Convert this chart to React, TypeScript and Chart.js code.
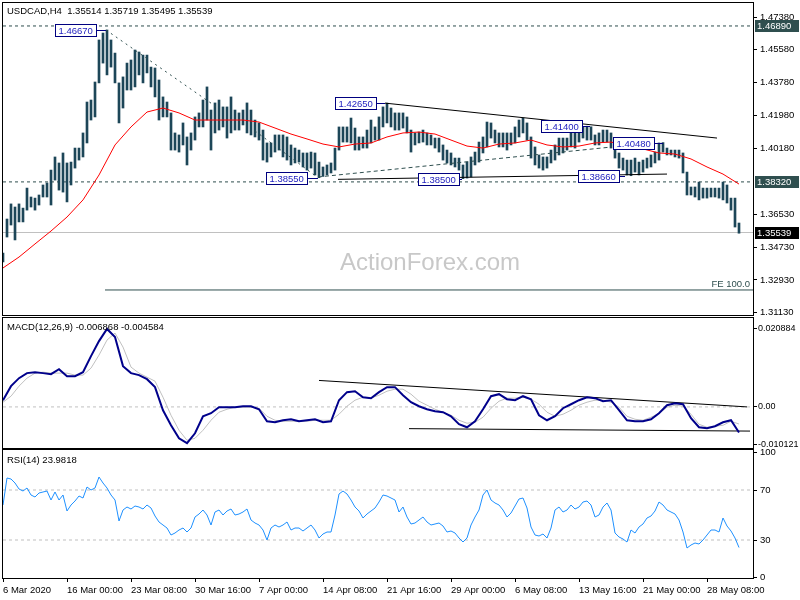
import React, { useEffect, useRef } from 'react';
import { Chart, registerables } from 'chart.js';

Chart.register(...registerables);

const FONT = '"Liberation Sans", Arial, sans-serif';
const FS = 9.5;

// ---------- texts ----------
const priceTitle = 'USDCAD,H4  1.35514 1.35719 1.35495 1.35539';
const macdTitle = 'MACD(12,26,9) -0.006868 -0.004584';
const rsiTitle = 'RSI(14) 23.9818';
const watermark = 'ActionForex.com';
const feText = 'FE 100.0';

// ---------- x axis (1 unit = 8 hours) ----------
const X_MIN = 0;
const X_MAX = 187.5;
const xTickPos = [0, 16, 32, 48, 64, 80, 96, 112, 128, 144, 160, 176];
const xTickLabels = [
  '6 Mar 2020', '16 Mar 00:00', '23 Mar 08:00', '30 Mar 16:00', '7 Apr 00:00', '14 Apr 08:00',
  '21 Apr 16:00', '29 Apr 00:00', '6 May 08:00', '13 May 16:00', '21 May 00:00', '28 May 08:00',
];

// ---------- price bars ----------
const highs = [
  1.3441, 1.3628, 1.3711, 1.3694, 1.3711, 1.3688, 1.3798, 1.3749, 1.3743, 1.3760,
  1.3815, 1.3826, 1.3897, 1.3969, 1.3936, 1.3991, 1.3936, 1.3941, 1.4018, 1.4018,
  1.4101, 1.4271, 1.4282, 1.4381, 1.4612, 1.4650, 1.4667, 1.4612, 1.4540, 1.4376,
  1.4409, 1.4485, 1.4502, 1.4557, 1.4546, 1.4529, 1.4529, 1.4463, 1.4458, 1.4392,
  1.4299, 1.4271, 1.4211, 1.4101, 1.4090, 1.4156, 1.4079, 1.4101, 1.4189, 1.4211,
  1.4282, 1.4354, 1.4227, 1.4266, 1.4282, 1.4244, 1.4244, 1.4299, 1.4227, 1.4211,
  1.4227, 1.4266, 1.4227, 1.4172, 1.4156, 1.4117, 1.4046, 1.4046, 1.4090, 1.4090,
  1.4090, 1.4079, 1.4035, 1.4018, 1.4007, 1.3991, 1.3991, 1.3996, 1.3991, 1.3941,
  1.3914, 1.3925, 1.3936, 1.4018, 1.4134, 1.4134, 1.4134, 1.4183, 1.4128, 1.4079,
  1.4079, 1.4117, 1.4172, 1.4134, 1.4189, 1.4244, 1.4265, 1.4238, 1.4211, 1.4211,
  1.4211, 1.4189, 1.4117, 1.4101, 1.4106, 1.4117, 1.4101, 1.4090, 1.4073, 1.4073,
  1.4035, 1.4007, 1.3991, 1.3963, 1.3963, 1.3925, 1.3941, 1.3969, 1.3996, 1.4051,
  1.4079, 1.4161, 1.4156, 1.4117, 1.4101, 1.4101, 1.4101, 1.4101, 1.4134, 1.4172,
  1.4183, 1.4156, 1.4079, 1.4024, 1.3980, 1.3969, 1.3969, 1.4007, 1.4035, 1.4073,
  1.4073, 1.4073, 1.4117, 1.4106, 1.4140, 1.4134, 1.4138, 1.4135, 1.4090, 1.4101,
  1.4117, 1.4117, 1.4101, 1.4062, 1.3991, 1.3963, 1.3952, 1.3952, 1.3963, 1.3941,
  1.3952, 1.3963, 1.3980, 1.3996, 1.4046, 1.4048, 1.4018, 1.4007, 1.4007, 1.4007,
  1.3991, 1.3886, 1.3804, 1.3804, 1.3831, 1.3798, 1.3798, 1.3798, 1.3798, 1.3798,
  1.3831, 1.3815, 1.3743, 1.3743, 1.3606,
];
const lows = [
  1.3392, 1.3529, 1.3595, 1.3513, 1.3612, 1.3612, 1.3677, 1.3694, 1.3677, 1.3705,
  1.3749, 1.3749, 1.3705, 1.3842, 1.3787, 1.3776, 1.3722, 1.3815, 1.3908, 1.3952,
  1.3969, 1.4046, 1.4172, 1.4189, 1.4376, 1.4485, 1.4420, 1.4463, 1.4376, 1.4156,
  1.4238, 1.4337, 1.4337, 1.4354, 1.4420, 1.4376, 1.4431, 1.4354, 1.4299, 1.4172,
  1.4189, 1.4189, 1.4007, 1.4007, 1.3996, 1.4035, 1.3925, 1.4007, 1.4062, 1.4134,
  1.4134, 1.4172, 1.4007, 1.4101, 1.4117, 1.4134, 1.4073, 1.4101, 1.4117, 1.4117,
  1.4145, 1.4101, 1.4090, 1.4079, 1.4062, 1.3952, 1.3941, 1.3969, 1.3996, 1.4007,
  1.3969, 1.3952, 1.3925, 1.3936, 1.3941, 1.3914, 1.3897, 1.3908, 1.3870, 1.3855,
  1.3862, 1.3870, 1.3881, 1.3897, 1.4007, 1.4051, 1.4051, 1.4046, 1.4007, 1.4007,
  1.4018, 1.4018, 1.4046, 1.4062, 1.4062, 1.4134, 1.4156, 1.4134, 1.4117, 1.4117,
  1.4128, 1.4101, 1.3996, 1.4035, 1.4046, 1.4051, 1.4035, 1.4035, 1.4018, 1.3996,
  1.3952, 1.3936, 1.3925, 1.3914, 1.3897, 1.3850, 1.3853, 1.3859, 1.3925, 1.3941,
  1.3991, 1.4024, 1.4073, 1.4046, 1.4024, 1.4024, 1.4007, 1.4035, 1.4046, 1.4079,
  1.4101, 1.4062, 1.3963, 1.3925, 1.3908, 1.3897, 1.3908, 1.3936, 1.3952, 1.3980,
  1.3991, 1.4007, 1.4024, 1.4018, 1.4051, 1.4073, 1.4062, 1.4062, 1.4035, 1.4035,
  1.4051, 1.4051, 1.4018, 1.3963, 1.3908, 1.3897, 1.3870, 1.3866, 1.3886, 1.3870,
  1.3886, 1.3908, 1.3914, 1.3936, 1.3952, 1.3996, 1.3980, 1.3980, 1.3969, 1.3963,
  1.3881, 1.3760, 1.3760, 1.3749, 1.3733, 1.3743, 1.3743, 1.3749, 1.3749, 1.3743,
  1.3733, 1.3716, 1.3677, 1.3584, 1.3550,
];

// moving average, one value every 4 steps
const MA_STEP = 4;
const ma = [
  1.3359, 1.3419, 1.3491, 1.3562, 1.3639, 1.3733, 1.3870, 1.4035, 1.4134, 1.4216,
  1.4238, 1.4211, 1.4172, 1.4172, 1.4172, 1.4172, 1.4161, 1.4128, 1.4095, 1.4068,
  1.4040, 1.4024, 1.4040, 1.4046, 1.4079, 1.4101, 1.4106, 1.4095, 1.4062, 1.4029,
  1.4018, 1.4040, 1.4046, 1.4062, 1.4035, 1.4024, 1.4029, 1.4046, 1.4051, 1.4029,
  1.4013, 1.3991, 1.3985, 1.3958, 1.3914, 1.3875, 1.3820,
];

// MACD, one value every 2 steps
const MACD_STEP = 2;
const macdMain = [
  0.00180, 0.00556, 0.00770, 0.00905, 0.00931, 0.00905, 0.00878, 0.01012, 0.00824, 0.00824,
  0.00931, 0.01361, 0.01763, 0.02088, 0.01871, 0.01092, 0.00905, 0.00851, 0.00743, 0.00529,
  -0.00089, -0.00491, -0.00840, -0.00970, -0.00706, -0.00250, -0.00169, -0.00008, -0.00008, -0.00008,
  0.00019, 0.00019, -0.00062, -0.00384, -0.00411, -0.00357, -0.00330, -0.00384, -0.00357, -0.00330,
  -0.00411, -0.00384, 0.00180, 0.00395, 0.00421, 0.00260, 0.00234, 0.00395, 0.00529, 0.00529,
  0.00314, 0.00126, 0.00019, -0.00062, -0.00115, -0.00142, -0.00250, -0.00464, -0.00545, -0.00384,
  -0.00062, 0.00287, 0.00341, 0.00207, 0.00180, 0.00287, 0.00207, -0.00223, -0.00357, -0.00250,
  -0.00035, 0.00072, 0.00180, 0.00260, 0.00234, 0.00153, 0.00180, -0.00089, -0.00357, -0.00384,
  -0.00384, -0.00330, -0.00169, 0.00046, 0.00099, 0.00072, -0.00303, -0.00545, -0.00572, -0.00518,
  -0.00411, -0.00357, -0.00687,
];
const macdSignal = [
  0.00126, 0.00287, 0.00556, 0.00770, 0.00905, 0.00931, 0.00905, 0.00905, 0.00905, 0.00851,
  0.00851, 0.01039, 0.01388, 0.01790, 0.01978, 0.01602, 0.01066, 0.00905, 0.00797, 0.00690,
  0.00260, -0.00223, -0.00625, -0.00894, -0.00840, -0.00625, -0.00357, -0.00142, -0.00062, -0.00008,
  -0.00008, -0.00008, -0.00035, -0.00250, -0.00357, -0.00384, -0.00384, -0.00384, -0.00384, -0.00357,
  -0.00357, -0.00357, -0.00196, 0.00019, 0.00180, 0.00260, 0.00234, 0.00314, 0.00421, 0.00475,
  0.00475, 0.00341, 0.00153, 0.00046, -0.00062, -0.00142, -0.00223, -0.00357, -0.00437, -0.00411,
  -0.00276, -0.00035, 0.00153, 0.00234, 0.00234, 0.00260, 0.00207, 0.00072, -0.00142, -0.00250,
  -0.00196, -0.00089, 0.00046, 0.00126, 0.00180, 0.00180, 0.00126, -0.00008, -0.00250, -0.00330,
  -0.00357, -0.00276, -0.00169, -0.00008, 0.00046, 0.00019, -0.00196, -0.00464, -0.00545, -0.00518,
  -0.00491, -0.00384, -0.00458,
];

// RSI, one value per step
const rsi = [
  58, 79.6, 78.8, 75.6, 70.8, 69.2, 71.6, 66, 64.4, 67.6,
  68.4, 69.2, 62, 68.4, 62, 66, 53.2, 58, 61.2, 65.2,
  63.6, 72.4, 70, 71.6, 80.4, 75.6, 71.6, 66, 62, 45.2,
  54, 56.4, 54.8, 57.2, 56.4, 54.8, 58, 55.6, 49.2, 44.4,
  42, 39.6, 34, 35.6, 38, 39.6, 36.4, 39.6, 48.4, 50.8,
  54, 50, 42, 52.4, 54, 50, 53.2, 54.8, 50, 50.8,
  52.4, 54.8, 46, 43.6, 42, 38, 30, 39.6, 42, 40.4,
  42, 44.4, 38, 39.6, 39.6, 37.2, 39.6, 42, 38, 31.6,
  34.8, 36.4, 36.4, 50, 66.8, 69.2, 66.8, 62, 56.4, 53.2,
  47.6, 50.8, 53.2, 55.6, 60.4, 66, 65.2, 63.6, 62, 52.4,
  56.4, 48.4, 42.8, 43.6, 46, 48.4, 44.4, 42, 42.8, 43.6,
  41.2, 36.4, 37.2, 35.6, 31.6, 28.4, 31.6, 42, 48.4, 54,
  66, 70, 62, 59.6, 58, 54, 48.4, 51.6, 57.2, 62.8,
  63.6, 55.6, 40.4, 34, 33.2, 34.8, 31.6, 39.6, 54, 56.4,
  52.4, 54, 58, 54.8, 56.4, 60.4, 61.2, 58, 48.4, 50,
  56.4, 59.6, 54, 35.6, 32.4, 30.8, 28.4, 38, 35.6, 40.4,
  42.8, 47.6, 49.2, 53.2, 60.4, 58, 54, 52.4, 50.8, 46,
  36.4, 23.6, 26, 27.6, 26.8, 30, 34, 38, 38, 36.4,
  47.6, 41.2, 37.2, 31.6, 23.98,
];

// ---------- axis ticks ----------
const priceTicks = [1.4738, 1.4558, 1.4378, 1.4198, 1.4018, 1.3653, 1.3473, 1.3293, 1.3113];
const macdTicks = [0.020884, 0, -0.010121];
const macdTickLabels = ['0.020884', '0.00', '-0.010121'];
const rsiTicks = [100, 70, 30, 0];
const rsiLevels = [70, 30];

// ---------- levels & drawings ----------
const dashedLevels = [1.4689, 1.3832];
const lastPrice = 1.35539;
const feLevel = 1.3238;
const feStart = 25.5;
const priceDotted = [[25.75, 1.4667, 53.75, 1.4238], [63, 1.4112, 78.5, 1.3859]];
const priceDashed = [[78.75, 1.3859, 152.25, 1.4024]];
const priceSolid = [[95.5, 1.4265, 178.5, 1.4073], [83.75, 1.3846, 166, 1.3875]];
const macdTrend = [[79, 0.00709, 186, 0.0], [101.5, -0.00582, 186.75, -0.00647]];

const labelValues = [1.4667, 1.4265, 1.3855, 1.385, 1.414, 1.3866, 1.4048];
const labelBarIdx = [25.75, 95.5, 78.75, 114.75, 146.75, 155.5, 165];
const labelBoxEndIdx = [23.25, 93.25, 76, 114, 144.75, 154, 162.75];
const tagValues = [1.4689, 1.3832, 1.35539];
const tagColors = ['#2f4f4f', '#2f4f4f', '#000000'];

// ---------- helpers ----------
const BAR_COLOR = '#1d4658';
const seg = (s: number[]) => [{ x: s[0], y: s[1] }, { x: s[2], y: s[3] }];
const hline = (v: number, from = X_MIN) => [{ x: from, y: v }, { x: X_MAX, y: v }];
const font = { family: FONT, size: FS };

const lineDs = (data: any[], color: string, extra: any = {}) => ({
  type: 'line',
  data,
  borderColor: color,
  borderWidth: 1,
  pointRadius: 0,
  tension: 0,
  fill: false,
  ...extra,
});

const yAxis = (
  min: number,
  max: number,
  ticks: number[],
  fmt: (v: number) => string,
  pad = 3,
  size = FS,
) => ({
  type: 'linear',
  position: 'right',
  min,
  max,
  afterBuildTicks: (s: any) => {
    s.ticks = ticks.map((v) => ({ value: v }));
  },
  afterFit: (s: any) => {
    s.width = 47;
    s.paddingTop = 0;
    s.paddingBottom = 0;
  },
  ticks: {
    autoSkip: false,
    font: { family: FONT, size },
    color: '#000',
    padding: pad,
    callback: (v: any) => fmt(Number(v)),
  },
  grid: { drawOnChartArea: false, drawTicks: true, tickLength: 4, color: '#000' },
  border: { display: false },
});

const hiddenX = { type: 'linear', min: X_MIN, max: X_MAX, offset: false, display: false };

const base = (padding: any) => ({
  responsive: false,
  animation: false,
  events: [],
  layout: { padding },
  plugins: { legend: { display: false }, tooltip: { enabled: false } },
});

const frame = (chart: any) => {
  const { ctx, chartArea: a } = chart;
  ctx.save();
  ctx.strokeStyle = '#000';
  ctx.lineWidth = 1;
  ctx.strokeRect(a.left - 0.5, a.top - 0.5, a.right - a.left + 1, a.bottom - a.top + 1);
  ctx.restore();
};

const title = (chart: any, text: string, y: number) => {
  const { ctx } = chart;
  ctx.save();
  ctx.font = `${FS}px ${FONT}`;
  ctx.fillStyle = '#000';
  ctx.textBaseline = 'middle';
  ctx.textAlign = 'left';
  ctx.fillText(text, 7, y);
  ctx.restore();
};

// ---------- charts ----------
function mainConfig(): any {
  const plugin = {
    id: 'mainDecor',
    beforeDatasetsDraw(chart: any) {
      const { ctx } = chart;
      ctx.save();
      ctx.font = `24px ${FONT}`;
      ctx.fillStyle = '#c8c8c8';
      ctx.textBaseline = 'alphabetic';
      ctx.fillText(watermark, 340, 270);
      ctx.restore();
    },
    afterDraw(chart: any) {
      const { ctx, chartArea: a, scales } = chart;
      const x = scales.x;
      const y = scales.y;
      frame(chart);
      title(chart, priceTitle, 11);
      ctx.save();
      ctx.font = `${FS}px ${FONT}`;
      ctx.textBaseline = 'middle';
      ctx.fillStyle = '#2f4f4f';
      ctx.textAlign = 'right';
      ctx.fillText(feText, a.right - 3, y.getPixelForValue(feLevel) - 6);
      ctx.textAlign = 'left';
      labelValues.forEach((v, i) => {
        const py = Math.round(y.getPixelForValue(v)) + 0.5;
        const px = x.getPixelForValue(labelBarIdx[i]);
        const right = Math.round(x.getPixelForValue(labelBoxEndIdx[i])) + 0.5;
        const text = v.toFixed(5);
        const w = Math.ceil(ctx.measureText(text).width) + 6;
        const left = right - w;
        ctx.fillStyle = '#fff';
        ctx.fillRect(left, py - 6, w, 12);
        ctx.strokeStyle = '#000080';
        ctx.lineWidth = 1;
        ctx.strokeRect(left, py - 6, w, 12);
        ctx.beginPath();
        ctx.moveTo(right, py);
        ctx.lineTo(px, py);
        ctx.stroke();
        ctx.fillStyle = '#2222c0';
        ctx.fillText(text, left + 3, py + 0.5);
      });
      tagValues.forEach((v, i) => {
        const py = Math.round(y.getPixelForValue(v));
        ctx.fillStyle = tagColors[i];
        ctx.fillRect(a.right + 2, py - 6, 44, 12);
        ctx.fillStyle = '#fff';
        ctx.fillText(v.toFixed(5), a.right + 4, py + 0.5);
      });
      ctx.restore();
    },
  };

  const datasets: any[] = [
    lineDs(ma.map((v, j) => ({ x: j * MA_STEP, y: v })), '#ff0000', { order: 1 }),
    ...priceSolid.map((s) => lineDs(seg(s), '#000000', { order: 2 })),
    ...priceDashed.map((s) => lineDs(seg(s), '#2f4f4f', { order: 2, borderDash: [4, 3] })),
    ...priceDotted.map((s) => lineDs(seg(s), '#2f4f4f', { order: 2, borderDash: [2, 4] })),
    {
      type: 'bar',
      data: highs.map((h, i) => ({ x: i, y: [lows[i], h] })),
      backgroundColor: BAR_COLOR,
      borderWidth: 0,
      barThickness: 2,
      grouped: false,
      order: 3,
    },
    ...dashedLevels.map((v) => lineDs(hline(v), '#2f4f4f', { order: 4, borderDash: [3, 3] })),
    lineDs(hline(lastPrice), '#c0c0c0', { order: 5 }),
    lineDs(hline(feLevel, feStart), '#2f4f4f', { order: 4 }),
  ];

  return {
    type: 'bar',
    data: { datasets },
    options: {
      ...base({ left: 3, right: 0, top: 3, bottom: 3 }),
      scales: {
        x: hiddenX,
        y: yAxis(1.31005, 1.48152, priceTicks, (v) => v.toFixed(5)),
      },
    },
    plugins: [plugin],
  };
}

function macdConfig(): any {
  const plugin = {
    id: 'macdDecor',
    afterDraw(chart: any) {
      frame(chart);
      title(chart, macdTitle, 11);
    },
  };
  const datasets: any[] = [
    lineDs(macdMain.map((v, k) => ({ x: k * MACD_STEP, y: v })), '#00008b', { order: 1, borderWidth: 2 }),
    lineDs(macdSignal.map((v, k) => ({ x: k * MACD_STEP, y: v })), '#c0c0c0', { order: 2 }),
    ...macdTrend.map((s) => lineDs(seg(s), '#000000', { order: 3 })),
    lineDs(hline(0), '#c0c0c0', { order: 4, borderDash: [3, 3] }),
  ];
  return {
    type: 'line',
    data: { datasets },
    options: {
      ...base({ left: 3, right: 0, top: 2, bottom: 2 }),
      scales: {
        x: hiddenX,
        y: yAxis(-0.011, 0.02381, macdTicks, (v) => macdTickLabels[macdTicks.indexOf(v)] ?? '', 1, 9),
      },
    },
    plugins: [plugin],
  };
}

function rsiConfig(): any {
  const plugin = {
    id: 'rsiDecor',
    afterDraw(chart: any) {
      frame(chart);
      title(chart, rsiTitle, 20);
    },
  };
  const datasets: any[] = [
    lineDs(rsi.map((v, i) => ({ x: i, y: v })), '#1e90ff', { order: 1 }),
    ...rsiLevels.map((v) => lineDs(hline(v), '#c0c0c0', { order: 2, borderDash: [3, 3] })),
  ];
  return {
    type: 'line',
    data: { datasets },
    options: {
      ...base({ left: 3, right: 0, top: 10, bottom: 0 }),
      scales: {
        x: {
          type: 'linear',
          min: X_MIN,
          max: X_MAX,
          offset: false,
          position: 'bottom',
          afterBuildTicks: (s: any) => {
            s.ticks = xTickPos.map((v) => ({ value: v }));
          },
          afterFit: (s: any) => {
            s.height = 22;
            s.paddingLeft = 0;
            s.paddingRight = 0;
          },
          ticks: {
            autoSkip: false,
            maxRotation: 0,
            minRotation: 0,
            align: 'start',
            padding: 3,
            font,
            color: '#000',
            callback: (v: any) => xTickLabels[xTickPos.indexOf(Number(v))] ?? '',
          },
          grid: { drawOnChartArea: false, drawTicks: true, tickLength: 4, color: '#000' },
          border: { display: false },
        },
        y: yAxis(-0.4, 102, rsiTicks, (v) => String(v)),
      },
    },
    plugins: [plugin],
  };
}

export default function App() {
  const mainRef = useRef<HTMLCanvasElement>(null);
  const macdRef = useRef<HTMLCanvasElement>(null);
  const rsiRef = useRef<HTMLCanvasElement>(null);

  useEffect(() => {
    const charts = [
      new Chart(mainRef.current as HTMLCanvasElement, mainConfig()),
      new Chart(macdRef.current as HTMLCanvasElement, macdConfig()),
      new Chart(rsiRef.current as HTMLCanvasElement, rsiConfig()),
    ];
    return () => charts.forEach((c) => c.destroy());
  }, []);

  return (
    <div style={{ position: 'absolute', left: 0, top: 0, width: 800, height: 600, background: '#fff', overflow: 'hidden' }}>
      <canvas ref={mainRef} width={800} height={318} style={{ position: 'absolute', left: 0, top: 0, width: 800, height: 318 }} />
      <canvas ref={macdRef} width={800} height={134} style={{ position: 'absolute', left: 0, top: 316, width: 800, height: 134 }} />
      <canvas ref={rsiRef} width={800} height={160} style={{ position: 'absolute', left: 0, top: 440, width: 800, height: 160 }} />
    </div>
  );
}
